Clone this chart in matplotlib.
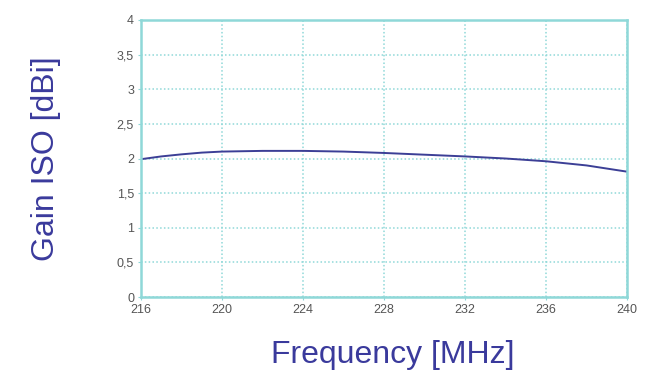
import matplotlib
matplotlib.use("Agg")
import matplotlib.pyplot as plt

# gain curve
freq = [216, 217, 218, 219, 220, 222, 224, 226, 228, 230, 232, 234, 236, 238, 240]
gain = [1.99, 2.03, 2.06, 2.085, 2.10, 2.11, 2.11, 2.10, 2.08, 2.055, 2.03, 2.00, 1.96, 1.90, 1.81]

x_ticks = [216, 220, 224, 228, 232, 236, 240]
y_ticks = [0, 0.5, 1, 1.5, 2, 2.5, 3, 3.5, 4]
y_labels = ["0", "0,5", "1", "1,5", "2", "2,5", "3", "3,5", "4"]

teal = "#8fd8d8"
label_col = "#3a3a9c"

plt.rcParams['font.family'] = ['Liberation Sans', 'DejaVu Sans']

fig = plt.figure(figsize=(6.72, 3.81), dpi=100)
ax = fig.add_axes([141 / 672, 1 - 297 / 381, 486 / 672, 277 / 381])

ax.plot(freq, gain, color="#3c3f96", lw=1.4)

ax.set_xlim(216, 240)
ax.set_ylim(0, 4)
ax.set_xticks(x_ticks)
ax.set_yticks(y_ticks)
ax.set_yticklabels(y_labels)
ax.grid(True, color=teal, linestyle=(0, (1, 1.5)), lw=1.1)
for s in ax.spines.values():
    s.set_color(teal)
    s.set_linewidth(1.8)
ax.tick_params(length=2, color=teal, labelsize=9, labelcolor="#555555", pad=3)

ax.set_xlabel("Frequency [MHz]", fontsize=23, color=label_col)
ax.xaxis.set_label_coords(0.517, -0.155)
ax.set_ylabel("Gain ISO [dBi]", fontsize=23, color=label_col, labelpad=40)

fig.savefig("out.png", dpi=100)
